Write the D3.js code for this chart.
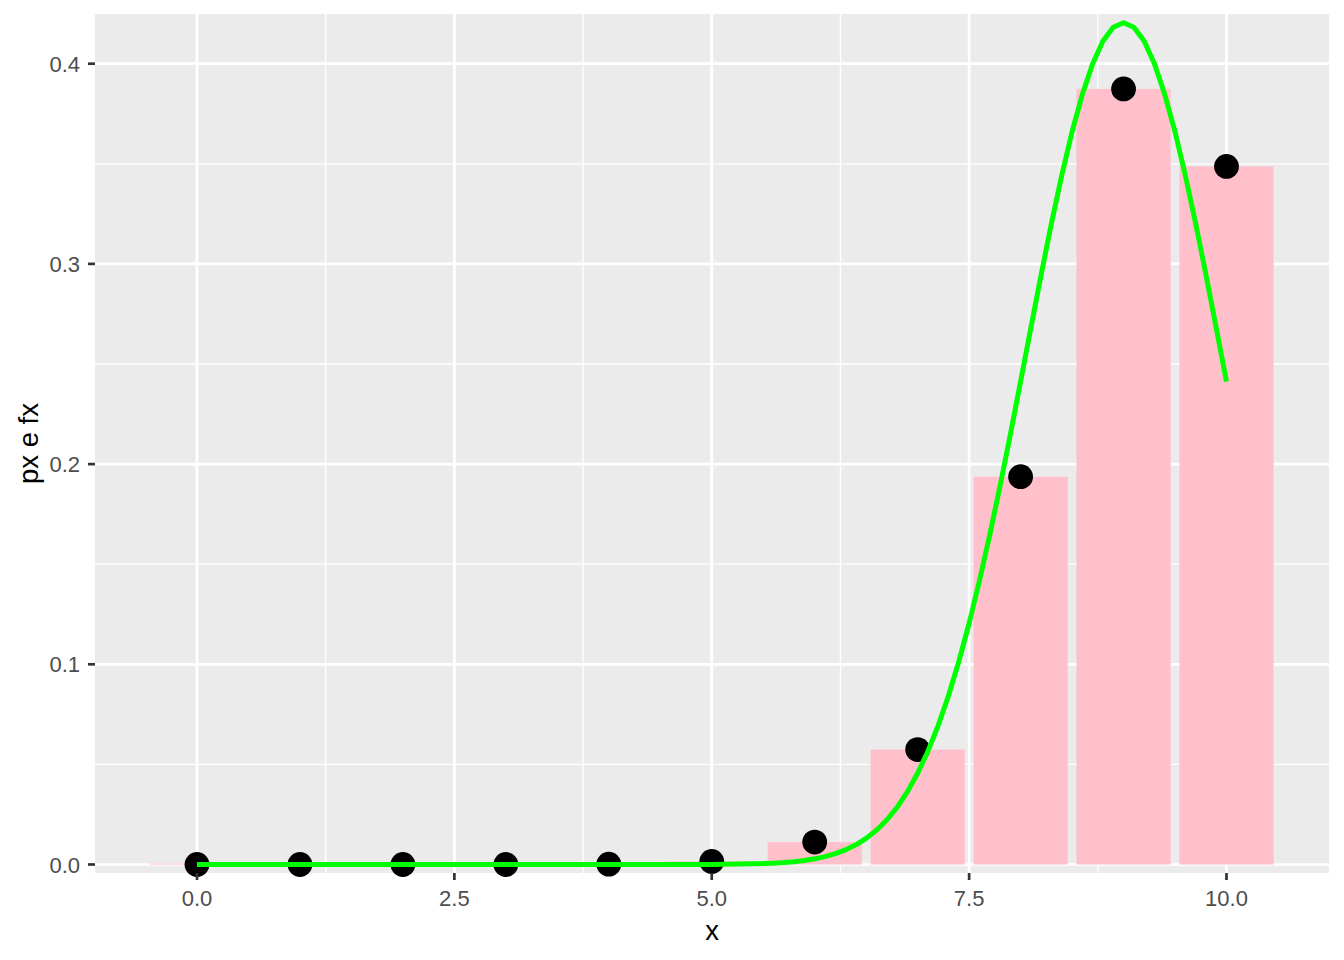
<!DOCTYPE html>
<html><head><meta charset="utf-8">
<script src="https://cdn.jsdelivr.net/npm/d3@7"></script>
<style>body{margin:0;background:#fff}svg{display:block;font-family:"Liberation Sans",Arial,sans-serif}</style>
</head><body>
<svg id="chart" width="1344" height="960"></svg>
<script>
const xs = [0,1,2,3,4,5,6,7,8,9,10];
const px = [0.0000000001,0.000000009,0.00000036,0.0000087,0.000138,0.00149,0.0112,0.0574,0.1937,0.3874,0.3487];
const curveX = [0,1,2,3,4,4.5,5,5.5,5.6,5.7,5.8,5.9,6.0,6.1,6.2,6.3,6.4,6.5,6.6,6.7,6.8,6.9,7.0,7.1,7.2,7.3,7.4,7.5,7.6,7.7,7.8,7.9,8.0,8.1,8.2,8.3,8.4,8.5,8.6,8.7,8.8,8.9,9.0,9.1,9.2,9.3,9.4,9.5,9.6,9.7,9.8,9.9,10.0];
const curveY = [0,0,0,0,0.0000004,0.0000055,0.000058,0.000466,0.000684,0.000991,0.001423,0.002019,0.002833,0.003933,0.005395,0.007326,0.00983,0.01306,0.01714,0.02225,0.02857,0.03629,0.04558,0.0566,0.06951,0.08444,0.1014,0.1205,0.1416,0.1645,0.1889,0.2147,0.2413,0.2681,0.2947,0.3203,0.3443,0.366,0.3847,0.4,0.4113,0.4182,0.4205,0.4182,0.4113,0.4,0.3847,0.366,0.3443,0.3203,0.2947,0.2681,0.2413];
const xTicks = [0,2.5,5,7.5,10];
const xMinor = [1.25,3.75,6.25,8.75];
const yTicks = [0,0.1,0.2,0.3,0.4];
const yMinor = [0.05,0.15,0.25,0.35];
const barWidth = 0.915;

const svg = d3.select("#chart");
const P = {l:95, r:1329, t:14, b:873};
const x = d3.scaleLinear().domain([0,10]).range([197,1226.5]);
const y = d3.scaleLinear().domain([0,0.4]).range([864.5,63.7]);

svg.append("rect").attr("x",P.l).attr("y",P.t).attr("width",P.r-P.l).attr("height",P.b-P.t).attr("fill","#EBEBEB");
const g = svg.append("g");
xMinor.forEach(v=>g.append("line").attr("x1",x(v)).attr("x2",x(v)).attr("y1",P.t).attr("y2",P.b).attr("stroke","#fff").attr("stroke-width",1.3));
yMinor.forEach(v=>g.append("line").attr("y1",y(v)).attr("y2",y(v)).attr("x1",P.l).attr("x2",P.r).attr("stroke","#fff").attr("stroke-width",1.3));
xTicks.forEach(v=>g.append("line").attr("x1",x(v)).attr("x2",x(v)).attr("y1",P.t).attr("y2",P.b).attr("stroke","#fff").attr("stroke-width",2.7));
yTicks.forEach(v=>g.append("line").attr("y1",y(v)).attr("y2",y(v)).attr("x1",P.l).attr("x2",P.r).attr("stroke","#fff").attr("stroke-width",2.7));

// bars
svg.append("g").selectAll("rect").data(xs).join("rect")
  .attr("x",(d)=>x(d-barWidth/2)).attr("width",x(barWidth)-x(0))
  .attr("y",(d,i)=>Math.min(y(px[i]), y(0)-1))
  .attr("height",(d,i)=>Math.max(y(0)-y(px[i]),1))
  .attr("fill","#FFC0CB");

// points
svg.append("g").selectAll("circle").data(xs).join("circle")
  .attr("cx",d=>x(d)).attr("cy",(d,i)=>y(px[i])).attr("r",12.4).attr("fill","#000");

// curve
const line = d3.line().x((d,i)=>x(curveX[i])).y(d=>y(d));
svg.append("path").datum(curveY).attr("d",line).attr("fill","none").attr("stroke","#00FF00").attr("stroke-width",5).attr("stroke-linejoin","round");

// axes ticks and labels
const tc = "#333333";
xTicks.forEach(v=>{
  svg.append("line").attr("x1",x(v)).attr("x2",x(v)).attr("y1",P.b).attr("y2",P.b+7).attr("stroke",tc).attr("stroke-width",2.7);
  svg.append("text").attr("x",x(v)).attr("y",906).attr("text-anchor","middle").attr("font-size",22).attr("fill","#4D4D4D").text(d3.format(".1f")(v));
});
yTicks.forEach(v=>{
  svg.append("line").attr("x1",P.l-7).attr("x2",P.l).attr("y1",y(v)).attr("y2",y(v)).attr("stroke",tc).attr("stroke-width",2.7);
  svg.append("text").attr("x",80).attr("y",y(v)+8).attr("text-anchor","end").attr("font-size",22).attr("fill","#4D4D4D").text(d3.format(".1f")(v));
});
svg.append("text").attr("x",(P.l+P.r)/2).attr("y",940).attr("text-anchor","middle").attr("font-size",27.5).attr("fill","#000").text("x");
svg.append("text").attr("transform",`translate(38,${(P.t+P.b)/2}) rotate(-90)`).attr("text-anchor","middle").attr("font-size",27.5).attr("fill","#000").text("px e fx");
</script>
</body></html>
